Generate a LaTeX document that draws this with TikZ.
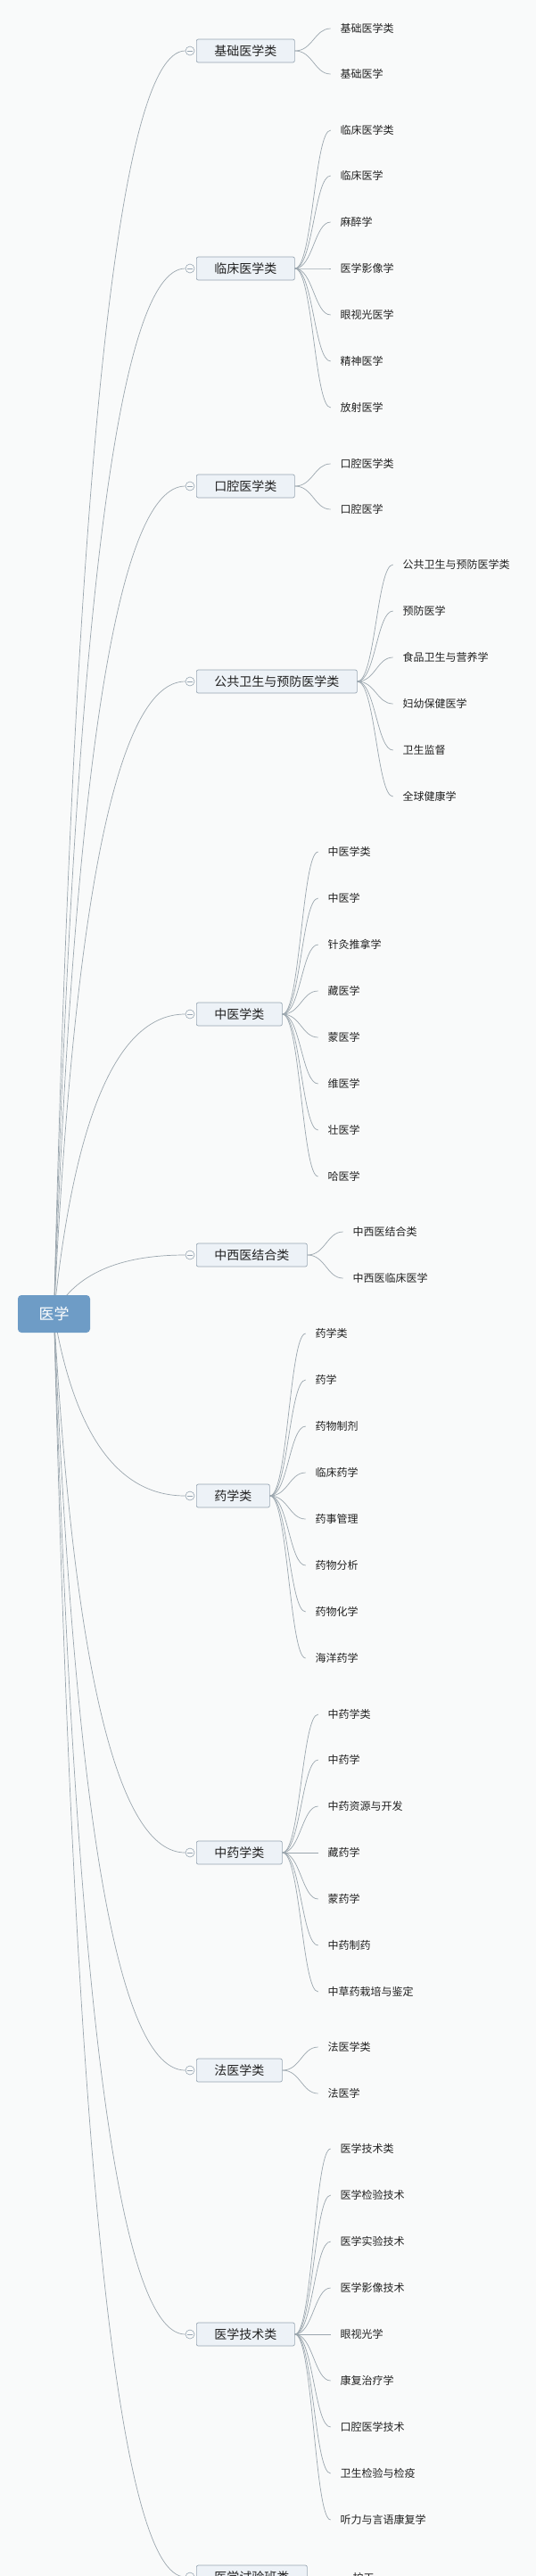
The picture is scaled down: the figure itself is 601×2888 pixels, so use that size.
\documentclass[tikz,border=0pt]{standalone}
\usepackage{fontspec}
\newfontfamily\cjk{Noto Sans CJK SC}
\usetikzlibrary{calc,backgrounds}
\definecolor{bgc}{HTML}{F9FAFA}
\definecolor{boxfill}{HTML}{EDF2F7}
\definecolor{boxdraw}{HTML}{97A5B2}
\definecolor{rootfill}{HTML}{6E9CC6}
\definecolor{linec}{HTML}{9BA6AE}
\definecolor{txt}{HTML}{222222}
\newcommand\grp[3]{%
  \node[catbox] (#1) at (220,#2) {#3};
  \node[toggle] (#1t) at ($(#1.west)+(-7,0)$) {};
  \draw[togglec] ($(#1t.center)+(-3,0)$) -- ($(#1t.center)+(3,0)$);
  \coordinate (#1x) at ($(#1.east)+(40,0)$);
  \coordinate (#1c) at (95,#2);
  \begin{scope}[on background layer]
    \draw[conn] (root.center) .. controls ($(root.center)!2/3!(#1c)$) and ($(#1t.west)!2/3!(#1c)$) .. (#1t.west);
  \end{scope}
}
\newcommand\lf[4]{%
  \node[leaf] (#2) at (#1x |- 0,#3) {#4};
  \draw[conn] (#1.east) .. controls +(20,0) and +(-18,0) .. (#2.west);
}
\begin{document}
\begin{tikzpicture}[x=1pt,y=-1pt,font=\cjk,
  catbox/.style={draw=boxdraw, fill=boxfill, line width=0.7pt, rounded corners=2pt, anchor=west, minimum height=26pt, inner xsep=20pt, inner ysep=0pt, font=\cjk\fontsize{14}{16}\selectfont, text=txt},
  toggle/.style={circle, draw=boxdraw, fill=bgc, line width=0.6pt, minimum size=10pt, inner sep=0pt},
  togglec/.style={draw=boxdraw, line width=0.6pt},
  rootbox/.style={fill=rootfill, rounded corners=4pt, minimum width=81pt, minimum height=42pt, inner sep=0pt, text=white, font=\cjk\fontsize{17}{19}\selectfont},
  leaf/.style={anchor=west, inner xsep=11pt, inner ysep=0pt, outer sep=0pt, font=\cjk\fontsize{12}{14}\selectfont, text=txt},
  conn/.style={draw=linec, line width=0.7pt}]
\useasboundingbox (0,0) rectangle (601,2888);
\begin{scope}[on background layer]
  \fill[bgc] (0,0) rectangle (601,2888);
\end{scope}
\node[rootbox] (root) at (60.5,1473) {医学};

\grp{g1}{57}{基础医学类}
\lf{g1}{g1a}{32}{基础医学类}
\lf{g1}{g1b}{83}{基础医学}

\grp{g2}{301}{临床医学类}
\lf{g2}{g2a}{146}{临床医学类}
\lf{g2}{g2b}{197}{临床医学}
\lf{g2}{g2c}{249}{麻醉学}
\lf{g2}{g2d}{301}{医学影像学}
\lf{g2}{g2e}{353}{眼视光医学}
\lf{g2}{g2f}{405}{精神医学}
\lf{g2}{g2g}{457}{放射医学}

\grp{g3}{545}{口腔医学类}
\lf{g3}{g3a}{520}{口腔医学类}
\lf{g3}{g3b}{571}{口腔医学}

\grp{g4}{764}{公共卫生与预防医学类}
\lf{g4}{g4a}{633}{公共卫生与预防医学类}
\lf{g4}{g4b}{685}{预防医学}
\lf{g4}{g4c}{737}{食品卫生与营养学}
\lf{g4}{g4d}{789}{妇幼保健医学}
\lf{g4}{g4e}{841}{卫生监督}
\lf{g4}{g4f}{893}{全球健康学}

\grp{g5}{1137}{中医学类}
\lf{g5}{g5a}{955}{中医学类}
\lf{g5}{g5b}{1007}{中医学}
\lf{g5}{g5c}{1059}{针灸推拿学}
\lf{g5}{g5d}{1111}{藏医学}
\lf{g5}{g5e}{1163}{蒙医学}
\lf{g5}{g5f}{1215}{维医学}
\lf{g5}{g5g}{1267}{壮医学}
\lf{g5}{g5h}{1319}{哈医学}

\grp{g6}{1407}{中西医结合类}
\lf{g6}{g6a}{1381}{中西医结合类}
\lf{g6}{g6b}{1433}{中西医临床医学}

\grp{g7}{1677}{药学类}
\lf{g7}{g7a}{1495}{药学类}
\lf{g7}{g7b}{1547}{药学}
\lf{g7}{g7c}{1599}{药物制剂}
\lf{g7}{g7d}{1651}{临床药学}
\lf{g7}{g7e}{1703}{药事管理}
\lf{g7}{g7f}{1755}{药物分析}
\lf{g7}{g7g}{1807}{药物化学}
\lf{g7}{g7h}{1859}{海洋药学}

\grp{g8}{2077}{中药学类}
\lf{g8}{g8a}{1922}{中药学类}
\lf{g8}{g8b}{1973}{中药学}
\lf{g8}{g8c}{2025}{中药资源与开发}
\lf{g8}{g8d}{2077}{藏药学}
\lf{g8}{g8e}{2129}{蒙药学}
\lf{g8}{g8f}{2181}{中药制药}
\lf{g8}{g8g}{2233}{中草药栽培与鉴定}

\grp{g9}{2321}{法医学类}
\lf{g9}{g9a}{2295}{法医学类}
\lf{g9}{g9b}{2347}{法医学}

\grp{g10}{2617}{医学技术类}
\lf{g10}{g10a}{2409}{医学技术类}
\lf{g10}{g10b}{2461}{医学检验技术}
\lf{g10}{g10c}{2513}{医学实验技术}
\lf{g10}{g10d}{2565}{医学影像技术}
\lf{g10}{g10e}{2617}{眼视光学}
\lf{g10}{g10f}{2669}{康复治疗学}
\lf{g10}{g10g}{2721}{口腔医学技术}
\lf{g10}{g10h}{2773}{卫生检验与检疫}
\lf{g10}{g10i}{2825}{听力与言语康复学}

\grp{g11}{2889}{医学试验班类}
\lf{g11}{g11a}{2890}{护工}
\end{tikzpicture}
\end{document}
